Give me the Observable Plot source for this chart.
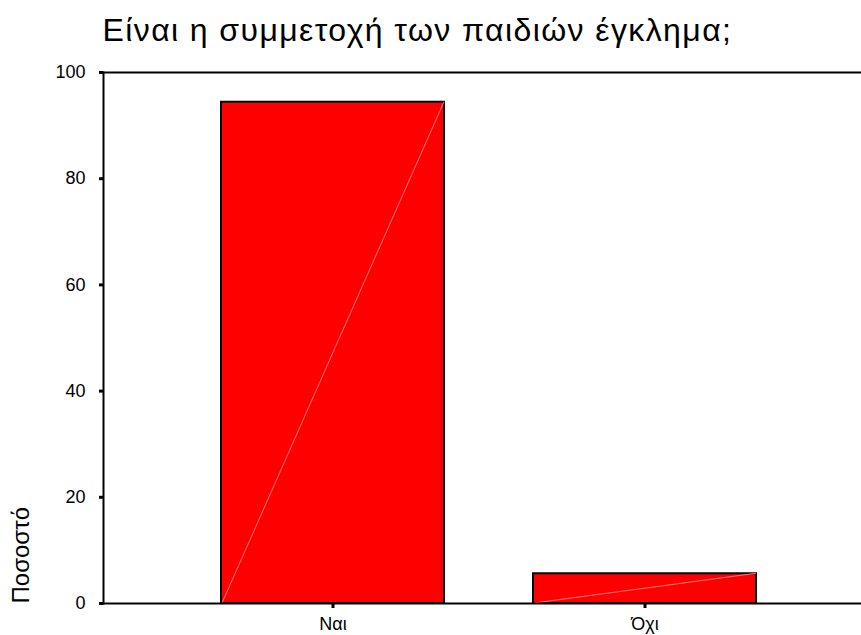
<!DOCTYPE html>
<html><head><meta charset="utf-8">
<script src="https://cdn.jsdelivr.net/npm/d3@7"></script>
<script src="https://cdn.jsdelivr.net/npm/@observablehq/plot@0.6"></script>
<style>body{margin:0;background:#fff;} svg{display:block} .ttl text{letter-spacing:1.4px}</style>
</head><body><div id="chart"></div>
<script>
const title = "Είναι η συμμετοχή των παιδιών έγκλημα;";
const yLabel = "Ποσοστό";
const categories = ["Ναι", "Όχι"];
const percents = [94.4, 5.6];
const yTicks = [0, 20, 40, 60, 80, 100];
const data = categories.map((c, i) => ({category: c, value: percents[i]}));

const barWithDiagonal = Plot.barY(data, {
  x: "category", y: "value", fill: "#ff0000", stroke: "#000", strokeWidth: 2,
  render(index, scales, values, dims, ctx, next) {
    const g = next(index, scales, values, dims, ctx);
    d3.select(g).selectAll("rect").each(function () {
      const r = d3.select(this);
      const x = +r.attr("x"), y = +r.attr("y"), w = +r.attr("width"), h = +r.attr("height");
      d3.select(this.parentNode).append("line")
        .attr("x1", x + 1).attr("y1", y + h)
        .attr("x2", x + w).attr("y2", y)
        .attr("stroke", "#ff7a7a").attr("stroke-width", 1);
    });
    return g;
  }
});

const chart = Plot.plot({
  width: 861, height: 635,
  marginTop: 72, marginBottom: 32, marginLeft: 103, marginRight: 0,
  style: {fontFamily: "Arial, 'Liberation Sans', sans-serif", color: "#000", background: "#fff"},
  x: {domain: categories, paddingInner: 0.284, paddingOuter: 0.353, align: 0.53, label: null},
  y: {domain: [0, 100], label: null},
  marks: [
    barWithDiagonal,
    Plot.ruleY([100], {stroke: "#000", strokeWidth: 2}),
    Plot.ruleY([0], {stroke: "#000", strokeWidth: 2}),
    Plot.frame({anchor: "left", stroke: "#000", strokeWidth: 2}),
    Plot.axisY({ticks: yTicks, tickSize: 4, tickPadding: 14, fontSize: 18, strokeWidth: 3, label: null}),
    Plot.axisX({tickSize: 5, tickPadding: 9, fontSize: 18, strokeWidth: 3, label: null}),
    Plot.text([title], {frameAnchor: "top-left", textAnchor: "start", lineAnchor: "bottom", dx: -1, dy: -32, fontSize: 32, fill: "#000", className: "ttl"}),
    Plot.text([yLabel], {frameAnchor: "bottom-left", textAnchor: "start", lineAnchor: "middle", rotate: -90, dx: -82, fontSize: 24, fill: "#000"})
  ]
});
document.getElementById("chart").appendChild(chart);
</script>
</body></html>
